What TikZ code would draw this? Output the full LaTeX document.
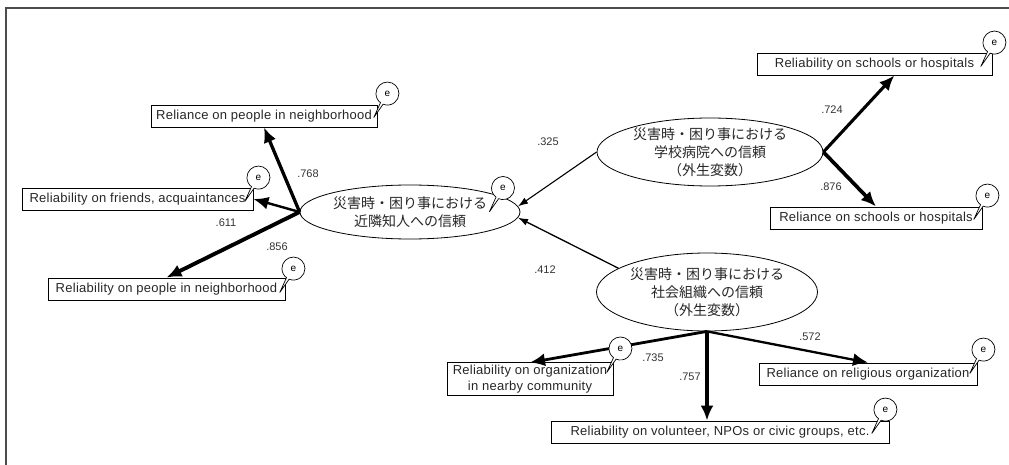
\documentclass[tikz,border=0pt]{standalone}
\usepackage{fontspec}
\setmainfont{Liberation Sans}
\newfontfamily\jp{Noto Sans CJK JP}
\usetikzlibrary{shapes.geometric,shapes.callouts,arrows.meta,calc}

\begin{document}
\begin{tikzpicture}[x=1pt, y=-1pt,
		box/.style={draw, line width=0.9pt, minimum height=22, inner sep=2pt, text=black!85, font=\fontsize{13}{16}\selectfont\addfontfeature{LetterSpace=2}},
		lat/.style={ellipse, draw, line width=0.8pt, align=center, inner sep=-4pt, text=black!85, font=\jp\fontsize{14}{18}\selectfont},
		err/.style={ellipse callout, draw, fill=white, line width=0.7pt, minimum width=23, minimum height=23, inner sep=0pt, callout relative pointer={(-8pt,-14pt)}, font=\fontsize{10}{10}\selectfont},
		load/.style={-{Latex[length=15pt,width=13pt]}},
		coef/.style={text=black!80, font=\fontsize{11}{11}\selectfont}]
	\useasboundingbox (0,0) rectangle (1009,465);
	\draw[line width=1.5pt, black!70] (6,465) -- (6,8) -- (1009,8);
	% latent variables
	\node[lat, minimum width=220, minimum height=54] (L) at (410,212) {災害時・困り事における\\近隣知人への信頼};
	\node[lat, minimum width=226, minimum height=68] (U) at (710,152) {災害時・困り事における\\学校病院への信頼\\（外生変数）};
	\node[lat, minimum width=221, minimum height=78] (S) at (707,292) {災害時・困り事における\\社会組織への信頼\\（外生変数）};
	% observed variables
	\node[box, minimum width=226] (a1) at (264,116) {Reliance on people in neighborhood};
	\node[box, minimum width=231] (a2) at (137.5,199) {Reliability on friends, acquaintances};
	\node[box, minimum width=237] (a3) at (166.5,289) {Reliability on people in neighborhood};
	\node[box, minimum width=235] (b1) at (874.5,64) {Reliability on schools or hospitals};
	\node[box, minimum width=212] (b2) at (876,218) {Reliance on schools or hospitals};
	\node[box, minimum width=166, align=center] (c1) at (530,379) {Reliability on organization\\in nearby community};
	\node[box, minimum width=338] (c2) at (720,432) {Reliability on volunteer, NPOs or civic groups, etc.};
	\node[box, minimum width=218] (c3) at (868,374) {Reliance on religious organization};
	% loadings
	\foreach \s/\t/\w in {L.west/a1.south/3.3pt, L.west/a2.east/2.4pt, L.west/a3.north/3.9pt,
	                      U.east/b1.-30/3.1pt, U.east/b2.north/3.7pt,
	                      S.south/c1.north/2.8pt, S.south/c3.north/2.3pt}
	    \draw[load, line width=\w] (\s) -- (\t);
	\draw[load, line width=3.2pt] (S.south) -- (S.south |- c2.north);
	% paths between latent variables
	\draw[-{Latex[length=10pt,width=7pt]}, line width=1.1pt] (U.west) -- (L.3);
	\draw[-{Latex[length=10pt,width=7pt]}, line width=1.3pt] (S.165) -- (L.-3);
	% error terms
	\foreach \n/\dx/\dy in {a1/10/-11, a2/5/-10, a3/8/-9, b1/2/-10, b2/5/-11, c1/7/-14, c2/-4/-11, c3/6/-13}
	    \node[err] (e\n) at ($(\n.north east)+(\dx,\dy)$) {e};
	\node[err] (eL) at (503,188) {e};
	% coefficients
	\foreach \v/\x/\y [count=\i] in {.768/308/174, .611/226/223, .856/277/247, .325/548/142, .412/545/270,
	                                 .724/832/110, .876/831/187, .735/653/358, .757/690/377, .572/810/337}
	    \node[coef] (k\i) at (\x,\y) {\v};
\end{tikzpicture}
\end{document}
